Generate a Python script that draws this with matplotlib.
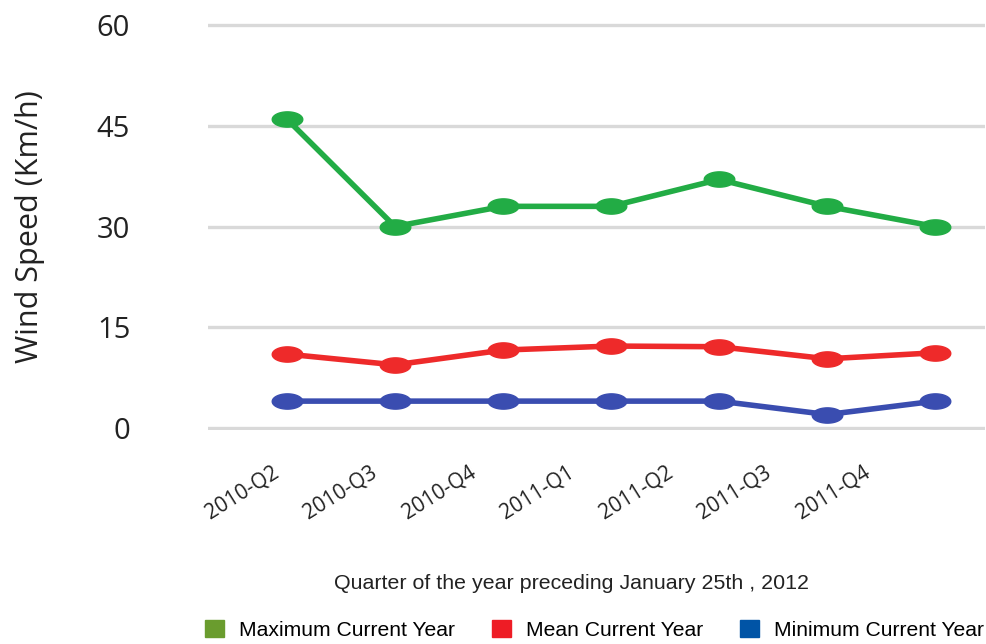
import matplotlib
matplotlib.use("Agg")
import matplotlib.pyplot as plt
import numpy as np
from matplotlib.path import Path
from matplotlib.patches import Patch

quarters = ["2010-Q2", "2010-Q3", "2010-Q4", "2011-Q1", "2011-Q2", "2011-Q3", "2011-Q4"]
max_speed = [46, 30, 33, 33, 37, 33, 30]
mean_speed = [11, 9.4, 11.6, 12.2, 12.1, 10.3, 11.2]
min_speed = [4, 4, 4, 4, 4, 2, 4]
yticks = [0, 15, 30, 45, 60]

line_colors = ["#22ac45", "#ee2a2a", "#3a4db0"]
legend_colors = ["#6a9c2e", "#ee1c25", "#0054a6"]
legend_labels = ["Maximum Current Year", "Mean Current Year", "Minimum Current Year"]

# wide ellipse marker
t = np.linspace(0, 2 * np.pi, 60)
ellipse = Path(np.column_stack([np.cos(t), 0.5 * np.sin(t)]), closed=True)

W, H = 987, 644
fig = plt.figure(figsize=(W / 100, H / 100), dpi=100)
ax = fig.add_axes([208 / W, (644 - 430) / H, (985 - 208) / W, (430 - 23) / H])

x = np.arange(len(quarters))
for vals, c in zip([max_speed, mean_speed, min_speed], line_colors):
    ax.plot(x, vals, color=c, lw=4, marker=ellipse, markersize=22,
            markerfacecolor=c, markeredgecolor=c, clip_on=False, zorder=3,
            solid_capstyle='round')

ax.set_xlim(-0.73, 6.46)
ax.set_ylim(-0.3, 60.3)
ax.set_yticks(yticks)
ax.set_yticklabels([str(v) for v in yticks], fontsize=21, family="Open Sans", color="#222222")
ax.tick_params(axis='y', length=0, pad=56)
for lbl in ax.get_yticklabels():
    lbl.set_horizontalalignment('right')

# category labels (drawn with the category axis, slightly compressed spacing)
ax.set_xticks(x * 0.912 - 0.145)
ax.set_xticklabels(quarters, rotation=32, ha='right', rotation_mode='anchor',
                   fontsize=15, family="Open Sans", color="#222222")
ax.tick_params(axis='x', length=0, pad=23)

ax.yaxis.grid(True, color="#d9d9d9", lw=2.4)
ax.set_axisbelow(True)
for s in ax.spines.values():
    s.set_visible(False)

ax.set_ylabel("Wind Speed (Km/h)", fontsize=22, family="Open Sans", color="#222222")
ax.yaxis.set_label_coords((45 - 208) / 777, 0.5)

ax.set_xlabel("Quarter of the year preceding January 25th , 2012", fontsize=15.4,
              family="Liberation Sans", color="#222222")
ax.xaxis.set_label_coords((572 - 208) / 777, (430 - 574) / 407)

handles = [Patch(facecolor=c, edgecolor=c) for c in legend_colors]
fig.legend(handles, legend_labels, loc='upper left', bbox_to_anchor=(186 / W, 1 - 601 / H),
           ncol=3, frameon=False, prop={'family': 'Liberation Sans', 'size': 15.2},
           handlelength=0.88, handleheight=0.88, handletextpad=0.72, columnspacing=1.76)

fig.savefig("out.png", dpi=100, facecolor="white")
